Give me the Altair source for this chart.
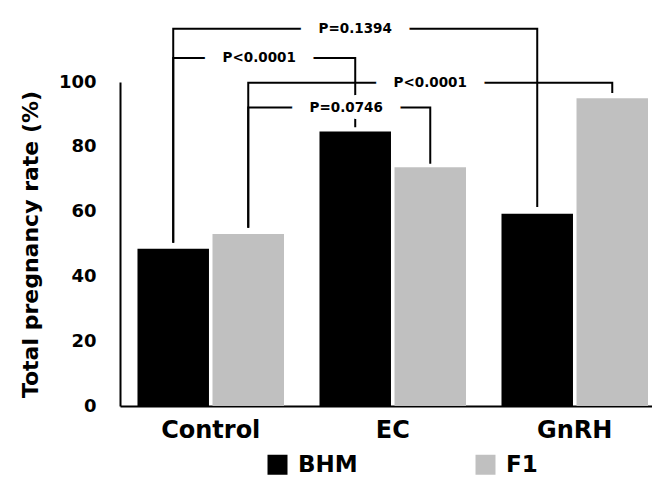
import altair as alt
import pandas as pd

# ---------------- data ----------------
groups = ["Control", "EC", "GnRH"]
series = ["BHM", "F1"]
bhm_values = [48.5, 84.7, 59.3]
f1_values = [53.1, 73.7, 95.0]

y_ticks = [0, 20, 40, 60, 80, 100]

bracket_labels = ["P=0.1394", "P<0.0001", "P<0.0001", "P=0.0746"]
bracket_from = ["Control", "Control", "Control", "Control"]
bracket_to = ["GnRH", "EC", "GnRH", "EC"]
bracket_series = ["BHM", "BHM", "F1", "F1"]
bracket_top = [116.4, 107.4, 99.8, 92.1]
bracket_from_end = [50.4, 50.4, 55.0, 55.0]
bracket_to_end = [61.4, 86.0, 96.6, 74.8]

# ---------------- tables ----------------
bars = pd.DataFrame(
    [{"group": g, "series": "BHM", "value": v} for g, v in zip(groups, bhm_values)]
    + [{"group": g, "series": "F1", "value": v} for g, v in zip(groups, f1_values)]
)

path_rows = []
text_rows = []
for i in range(len(bracket_labels)):
    s = bracket_series[i]
    pts = [
        (bracket_from[i], bracket_from_end[i]),
        (bracket_from[i], bracket_top[i]),
        (bracket_to[i], bracket_top[i]),
        (bracket_to[i], bracket_to_end[i]),
    ]
    for k, (g, v) in enumerate(pts):
        path_rows.append({"bid": i, "ord": k, "group": g, "series": s, "value": v})
    text_rows.append({"bid": i, "group": bracket_from[i], "series": s,
                      "value": bracket_top[i], "label": bracket_labels[i],
                      "mask": "--" + bracket_labels[i] + "--"})
paths = pd.DataFrame(path_rows)
texts = pd.DataFrame(text_rows)

FONT = "DejaVu Sans"

x_enc = alt.X(
    "group:N",
    sort=groups,
    scale=alt.Scale(domain=groups, paddingInner=0.195, paddingOuter=0.059, align=0.814),
    axis=alt.Axis(title=None, labelFontSize=24, labelPadding=12, labelAngle=0),
)
xo_enc = alt.XOffset(
    "series:N", sort=series,
    scale=alt.Scale(domain=series, paddingInner=0.047, paddingOuter=0),
)
y_enc = alt.Y(
    "value:Q",
    scale=alt.Scale(domain=[0, 100], nice=False, zero=True),
    axis=alt.Axis(values=y_ticks, title="Total pregnancy rate (%)",
                  labelFontSize=18, labelPadding=24, titleFontSize=22,
                  titlePadding=16),
)

bar_layer = alt.Chart(bars).mark_bar().encode(
    x=x_enc,
    xOffset=xo_enc,
    y=y_enc,
    color=alt.Color(
        "series:N",
        scale=alt.Scale(domain=series, range=["#000000", "#c0c0c0"]),
        legend=alt.Legend(
            title=None, orient="none", legendX=146, legendY=371,
            direction="horizontal", symbolType="square", symbolSize=400,
            symbolStrokeWidth=0, symbolOpacity=1, labelFont=FONT,
            labelFontSize=23, labelFontWeight="bold", labelColor="black",
            labelOffset=9, columnPadding=116, padding=0,
        ),
    ),
)

line_layer = alt.Chart(paths).mark_line(strokeWidth=2, color="black", strokeCap="butt").encode(
    x=x_enc, xOffset=xo_enc, y=y_enc,
    detail="bid:N", order="ord:Q",
)

shifts = [0, -5, 0, 7]
step = 182
mask_layers = []
label_layers = []
for i in range(len(bracket_labels)):
    span = groups.index(bracket_to[i]) - groups.index(bracket_from[i])
    dx = span * step / 2 + shifts[i]
    base = alt.Chart(texts).transform_filter(alt.datum.bid == i)
    mask_layers.append(
        base.mark_text(font=FONT, fontSize=13.5, fontWeight="bold", baseline="middle",
                       align="center", dx=dx, color="white", stroke="white",
                       strokeWidth=14, strokeJoin="round").encode(
            x=x_enc, xOffset=xo_enc, y=y_enc, text="mask:N")
    )
    label_layers.append(
        base.mark_text(font=FONT, fontSize=13.5, fontWeight="bold", baseline="middle",
                       align="center", dx=dx, color="black").encode(
            x=x_enc, xOffset=xo_enc, y=y_enc, text="label:N")
    )

chart = alt.layer(bar_layer, line_layer, *mask_layers, *label_layers).properties(
    width=532, height=324,
    padding={"left": 112, "top": 74, "right": 0, "bottom": 70},
    autosize=alt.AutoSizeParams(type="none"),
    background="white",
).configure_view(stroke=None).configure_axis(
    domainColor="black", domainWidth=2, ticks=False, tickSize=0, grid=False,
    labelFont=FONT, labelFontWeight="bold", labelColor="black",
    titleFont=FONT, titleFontWeight="bold", titleColor="black",
)

chart.save("out.html", embed_options={"renderer": "svg", "actions": False})
